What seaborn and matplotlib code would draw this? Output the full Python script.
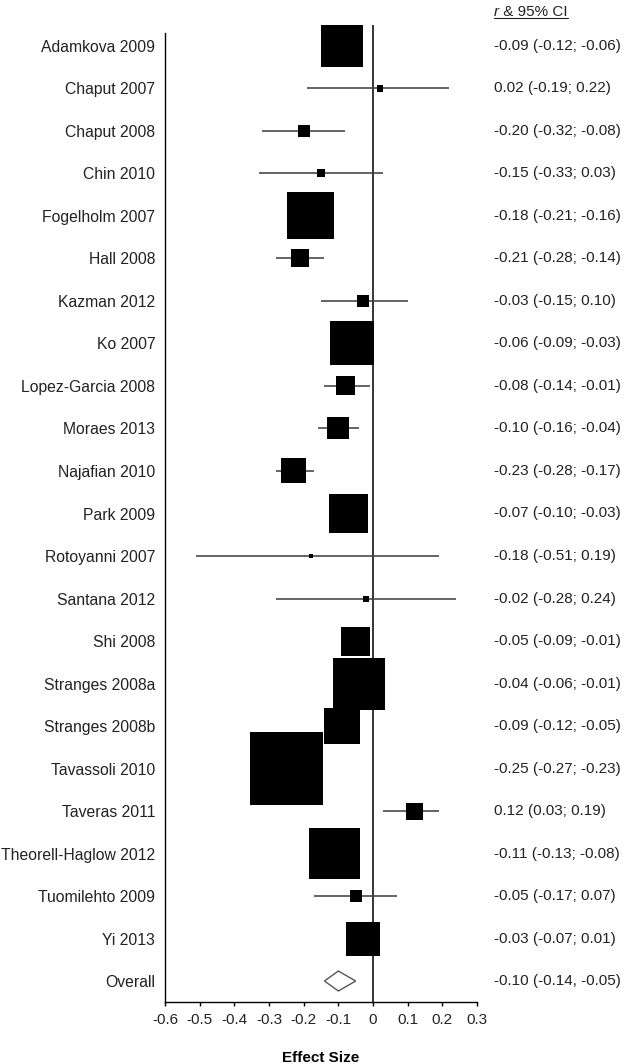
import numpy as np
import pandas as pd
import matplotlib
matplotlib.use("Agg")
import matplotlib.pyplot as plt
import seaborn as sns
from matplotlib.patches import Polygon
from matplotlib.transforms import blended_transform_factory

# ---------------- data ----------------
studies = ["Adamkova 2009", "Chaput 2007", "Chaput 2008", "Chin 2010",
           "Fogelholm 2007", "Hall 2008", "Kazman 2012", "Ko 2007",
           "Lopez-Garcia 2008", "Moraes 2013", "Najafian 2010", "Park 2009",
           "Rotoyanni 2007", "Santana 2012", "Shi 2008", "Stranges 2008a",
           "Stranges 2008b", "Tavassoli 2010", "Taveras 2011",
           "Theorell-Haglow 2012", "Tuomilehto 2009", "Yi 2013"]
r_vals = [-0.09, 0.02, -0.20, -0.15, -0.18, -0.21, -0.03, -0.06, -0.08, -0.10,
          -0.23, -0.07, -0.18, -0.02, -0.05, -0.04, -0.09, -0.25, 0.12, -0.11,
          -0.05, -0.03]
ci_low = [-0.12, -0.19, -0.32, -0.33, -0.21, -0.28, -0.15, -0.09, -0.14, -0.16,
          -0.28, -0.10, -0.51, -0.28, -0.09, -0.06, -0.12, -0.27, 0.03, -0.13,
          -0.17, -0.07]
ci_high = [-0.06, 0.22, -0.08, 0.03, -0.16, -0.14, 0.10, -0.03, -0.01, -0.04,
           -0.17, -0.03, 0.19, 0.24, -0.01, -0.01, -0.05, -0.23, 0.19, -0.08,
           0.07, 0.01]
# relative study weight (box side proportional to it)
weights = [42, 6.5, 12, 8, 47, 18, 12, 44, 19, 22, 25, 39, 4, 6, 29, 52, 36,
           73, 17, 51, 12, 34]
overall_label = "Overall"
overall_r = -0.10
overall_low = -0.14
overall_high = -0.05
x_ticks = [-0.6, -0.5, -0.4, -0.3, -0.2, -0.1, 0, 0.1, 0.2, 0.3]
x_tick_labels = ["-0.6", "-0.5", "-0.4", "-0.3", "-0.2", "-0.1", "0", "0.1", "0.2", "0.3"]
x_title = "Effect Size"

# ---------------- style ----------------
sns.set_theme(style="white")
plt.rcParams["font.family"] = ["Liberation Sans", "DejaVu Sans"]
FS = 11
FS_LAB = 11.3
TXT = "#222222"

W, H, DPI = 624, 1064, 100
fig = plt.figure(figsize=(W / DPI, H / DPI), dpi=DPI)
ax = fig.add_axes([165 / W, 62 / H, 312 / W, 977 / H])

n = len(studies)
df = pd.DataFrame({"study": studies, "r": r_vals, "lo": ci_low, "hi": ci_high,
                   "w": weights, "row": np.arange(n)})
px_to_pt = 72 / DPI
df["s"] = (df["w"] * px_to_pt) ** 2

# zero line
ax.axvline(0, color="black", lw=1.1, zorder=1)
# whiskers
ax.hlines(df["row"], df["lo"], df["hi"], color="#3a3a3a", lw=1.1, zorder=2)
# boxes
sns.scatterplot(data=df, x="r", y="row", marker="s", s=df["s"].values,
                color="black", linewidth=0, ax=ax, zorder=3, legend=False)

# overall diamond
orow = n
dh = 0.235
diamond = Polygon([(overall_low, orow), (overall_r, orow - dh),
                   (overall_high, orow), (overall_r, orow + dh)],
                  closed=True, facecolor="white", edgecolor="#555555", lw=1.0, zorder=3)
ax.add_patch(diamond)

# axes
ax.set_xlim(-0.6, 0.3)
ax.set_ylim(n + 0.494, -0.494)
ax.set_xticks(x_ticks)
ax.set_xticklabels(x_tick_labels, fontsize=FS, color=TXT)
ax.set_yticks(list(range(n + 1)))
ax.set_yticklabels(studies + [overall_label], fontsize=FS_LAB, color=TXT)
ax.tick_params(axis="y", length=0, pad=7)
ax.tick_params(axis="x", direction="out", length=3, width=1, color="black",
               pad=5, bottom=True)
for side in ["top", "right"]:
    ax.spines[side].set_visible(False)
for side in ["left", "bottom"]:
    ax.spines[side].set_color("black")
    ax.spines[side].set_linewidth(1.0)
ax.spines["left"].set_bounds(-0.306, n + 0.494)
ax.set_xlabel(x_title, fontsize=FS, fontweight="bold", color="black", labelpad=17)
ax.set_ylabel("")
ax.grid(False)

# right-hand text column
tr = blended_transform_factory(fig.transFigure, ax.transData)
xt = 494 / W
for i, (rv, l, h) in enumerate(zip(r_vals, ci_low, ci_high)):
    ax.text(xt, i, f"{rv:.2f} ({l:.2f}; {h:.2f})", transform=tr, fontsize=FS,
            color=TXT, va="center", ha="left")
ax.text(xt, orow, f"{overall_r:.2f} ({overall_low:.2f}, {overall_high:.2f})",
        transform=tr, fontsize=FS, color=TXT, va="center", ha="left")

# header "r & 95% CI" underlined
hy = 1 - 12 / H
t1 = fig.text(xt, hy, "r", fontsize=FS, style="italic", color=TXT, va="center", ha="left")
fig.canvas.draw()
rend = fig.canvas.get_renderer()
bb1 = t1.get_window_extent(rend)
t2 = fig.text(bb1.x1 / W, hy, " & 95% CI", fontsize=FS, color=TXT, va="center", ha="left")
fig.canvas.draw()
bb2 = t2.get_window_extent(rend)
uy = 1 - 18 / H
fig.add_artist(plt.Line2D([bb1.x0 / W, bb2.x1 / W], [uy, uy], color=TXT, lw=0.8,
                          transform=fig.transFigure))

fig.savefig("out.png", dpi=DPI)
